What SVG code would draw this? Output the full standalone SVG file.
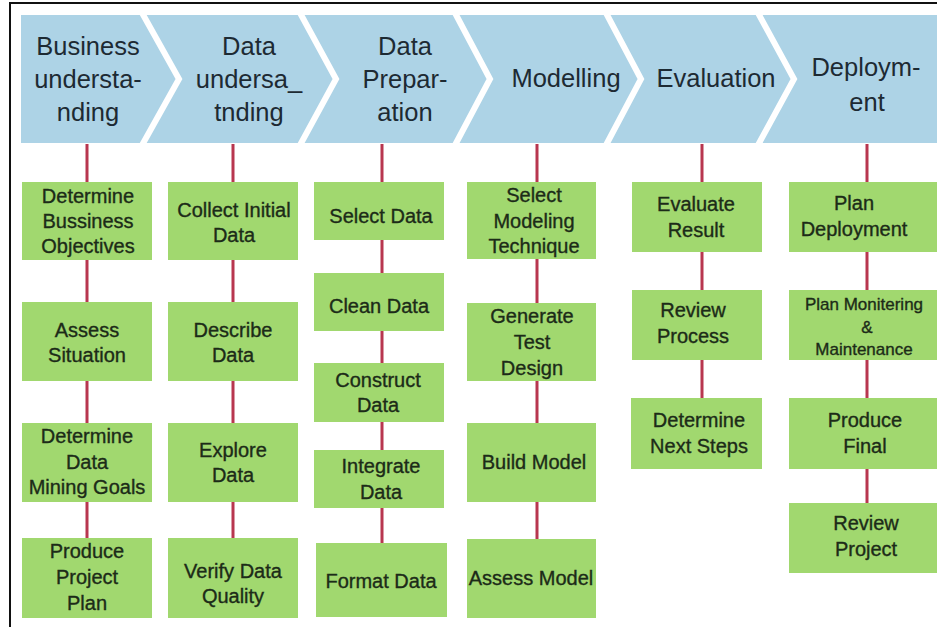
<svg xmlns="http://www.w3.org/2000/svg" width="937" height="627" viewBox="0 0 937 627">
  <style>
    .frame { stroke: #111; stroke-width: 2; fill: none; }
    .band { fill: #add3e6; }
    .gap { stroke: #ffffff; stroke-width: 6; fill: none; stroke-linejoin: miter; }
    .phase { font-family: "Liberation Sans", Arial, sans-serif; font-size: 25.5px; fill: #1d2a33; text-anchor: middle; }
    .box { fill: #a1d86f; }
    .task { font-family: "Liberation Sans", Arial, sans-serif; font-size: 20px; fill: #1c2b18; stroke: #1c2b18; stroke-width: 0.35; text-anchor: middle; }
    .task.small { font-size: 17px; }
    .link { stroke: #b8364f; stroke-width: 3; fill: none; }
  </style>

  <rect x="0" y="0" width="937" height="627" fill="#ffffff"/>
  <path class="frame" d="M10,627 V3 H937"/>

  <!-- phase band with chevron separators -->
  <g id="phases">
    <rect class="band" x="21" y="15" width="916" height="128"/>
    <polyline class="gap" points="141,11 179,79 141,147"/>
    <polyline class="gap" points="299,11 336,79 299,147"/>
    <polyline class="gap" points="454,11 490,79 454,147"/>
    <polyline class="gap" points="605,11 641,79 605,147"/>
    <polyline class="gap" points="757,11 794,79 757,147"/>
  </g>

  <g id="phase-business">
    <text class="phase" x="88" y="55">Business</text>
    <text class="phase" x="88" y="88">understa-</text>
    <text class="phase" x="88" y="121">nding</text>
  </g>
  <g id="phase-data-understanding">
    <text class="phase" x="249" y="55">Data</text>
    <text class="phase" x="249" y="88">undersa_</text>
    <text class="phase" x="249" y="121">tnding</text>
  </g>
  <g id="phase-data-preparation">
    <text class="phase" x="405" y="55">Data</text>
    <text class="phase" x="405" y="88">Prepar-</text>
    <text class="phase" x="405" y="121">ation</text>
  </g>
  <g id="phase-modelling">
    <text class="phase" x="566" y="87">Modelling</text>
  </g>
  <g id="phase-evaluation">
    <text class="phase" x="716" y="87">Evaluation</text>
  </g>
  <g id="phase-deployment">
    <text class="phase" x="866" y="76">Deploym-</text>
    <text class="phase" x="867" y="111">ent</text>
  </g>

  <!-- connectors -->
  <g id="connectors">
    <path class="link" d="M87,144 V182 M87,260 V302 M87,381 V423 M87,502 V538"/>
    <path class="link" d="M233,144 V182 M233,260 V302 M233,381 V423 M233,502 V538"/>
    <path class="link" d="M382,144 V182 M382,240 V273 M382,331 V363 M382,422 V450 M382,508 V543"/>
    <path class="link" d="M537,144 V182 M537,259 V303 M537,381 V423 M537,502 V539"/>
    <path class="link" d="M702,144 V182 M702,252 V290 M702,360 V398"/>
    <path class="link" d="M867,144 V182 M867,252 V290 M867,360 V398 M867,469 V503"/>
  </g>

  <!-- Business understanding -->
  <g id="bu-objectives">
    <rect class="box" x="22" y="182" width="130" height="78"/>
    <text class="task" x="88" y="203">Determine</text>
    <text class="task" x="88" y="228">Bussiness</text>
    <text class="task" x="88" y="253">Objectives</text>
  </g>
  <g id="bu-situation">
    <rect class="box" x="22" y="302" width="130" height="79"/>
    <text class="task" x="87" y="337">Assess</text>
    <text class="task" x="87" y="362">Situation</text>
  </g>
  <g id="bu-goals">
    <rect class="box" x="22" y="423" width="130" height="79"/>
    <text class="task" x="87" y="443">Determine</text>
    <text class="task" x="87" y="469">Data</text>
    <text class="task" x="87" y="494">Mining Goals</text>
  </g>
  <g id="bu-plan">
    <rect class="box" x="22" y="538" width="130" height="80"/>
    <text class="task" x="87" y="558">Produce</text>
    <text class="task" x="87" y="584">Project</text>
    <text class="task" x="87" y="610">Plan</text>
  </g>

  <!-- Data understanding -->
  <g id="du-collect">
    <rect class="box" x="168" y="182" width="130" height="78"/>
    <text class="task" x="234" y="217">Collect Initial</text>
    <text class="task" x="234" y="242">Data</text>
  </g>
  <g id="du-describe">
    <rect class="box" x="168" y="302" width="130" height="79"/>
    <text class="task" x="233" y="337">Describe</text>
    <text class="task" x="233" y="362">Data</text>
  </g>
  <g id="du-explore">
    <rect class="box" x="168" y="423" width="130" height="79"/>
    <text class="task" x="233" y="457">Explore</text>
    <text class="task" x="233" y="482">Data</text>
  </g>
  <g id="du-verify">
    <rect class="box" x="168" y="538" width="130" height="80"/>
    <text class="task" x="233" y="578">Verify Data</text>
    <text class="task" x="233" y="603">Quality</text>
  </g>

  <!-- Data preparation -->
  <g id="dp-select">
    <rect class="box" x="314" y="182" width="130" height="58"/>
    <text class="task" x="381" y="223">Select Data</text>
  </g>
  <g id="dp-clean">
    <rect class="box" x="314" y="273" width="130" height="58"/>
    <text class="task" x="379" y="313">Clean Data</text>
  </g>
  <g id="dp-construct">
    <rect class="box" x="314" y="363" width="130" height="59"/>
    <text class="task" x="378" y="387">Construct</text>
    <text class="task" x="378" y="412">Data</text>
  </g>
  <g id="dp-integrate">
    <rect class="box" x="314" y="450" width="130" height="58"/>
    <text class="task" x="381" y="473">Integrate</text>
    <text class="task" x="381" y="499">Data</text>
  </g>
  <g id="dp-format">
    <rect class="box" x="316" y="543" width="131" height="74"/>
    <text class="task" x="381" y="588">Format Data</text>
  </g>

  <!-- Modelling -->
  <g id="mo-technique">
    <rect class="box" x="467" y="182" width="129" height="77"/>
    <text class="task" x="534" y="202">Select</text>
    <text class="task" x="534" y="228">Modeling</text>
    <text class="task" x="534" y="253">Technique</text>
  </g>
  <g id="mo-test">
    <rect class="box" x="467" y="303" width="129" height="78"/>
    <text class="task" x="532" y="323">Generate</text>
    <text class="task" x="532" y="349">Test</text>
    <text class="task" x="532" y="375">Design</text>
  </g>
  <g id="mo-build">
    <rect class="box" x="467" y="423" width="129" height="79"/>
    <text class="task" x="534" y="469">Build Model</text>
  </g>
  <g id="mo-assess">
    <rect class="box" x="467" y="539" width="129" height="79"/>
    <text class="task" x="531" y="585">Assess Model</text>
  </g>

  <!-- Evaluation -->
  <g id="ev-result">
    <rect class="box" x="632" y="182" width="130" height="70"/>
    <text class="task" x="696" y="211">Evaluate</text>
    <text class="task" x="696" y="237">Result</text>
  </g>
  <g id="ev-review">
    <rect class="box" x="632" y="290" width="130" height="70"/>
    <text class="task" x="693" y="317">Review</text>
    <text class="task" x="693" y="343">Process</text>
  </g>
  <g id="ev-next">
    <rect class="box" x="631" y="398" width="131" height="71"/>
    <text class="task" x="699" y="427">Determine</text>
    <text class="task" x="699" y="453">Next Steps</text>
  </g>

  <!-- Deployment -->
  <g id="de-plan">
    <rect class="box" x="789" y="182" width="148" height="70"/>
    <text class="task" x="854" y="210">Plan</text>
    <text class="task" x="854" y="236">Deployment</text>
  </g>
  <g id="de-monitor">
    <rect class="box" x="789" y="290" width="148" height="70"/>
    <text class="task small" x="864" y="310">Plan Monitering</text>
    <text class="task small" x="867" y="333">&amp;</text>
    <text class="task small" x="864" y="355">Maintenance</text>
  </g>
  <g id="de-final">
    <rect class="box" x="789" y="398" width="148" height="71"/>
    <text class="task" x="865" y="427">Produce</text>
    <text class="task" x="865" y="453">Final</text>
  </g>
  <g id="de-review">
    <rect class="box" x="789" y="503" width="148" height="70"/>
    <text class="task" x="866" y="530">Review</text>
    <text class="task" x="866" y="556">Project</text>
  </g>
</svg>
